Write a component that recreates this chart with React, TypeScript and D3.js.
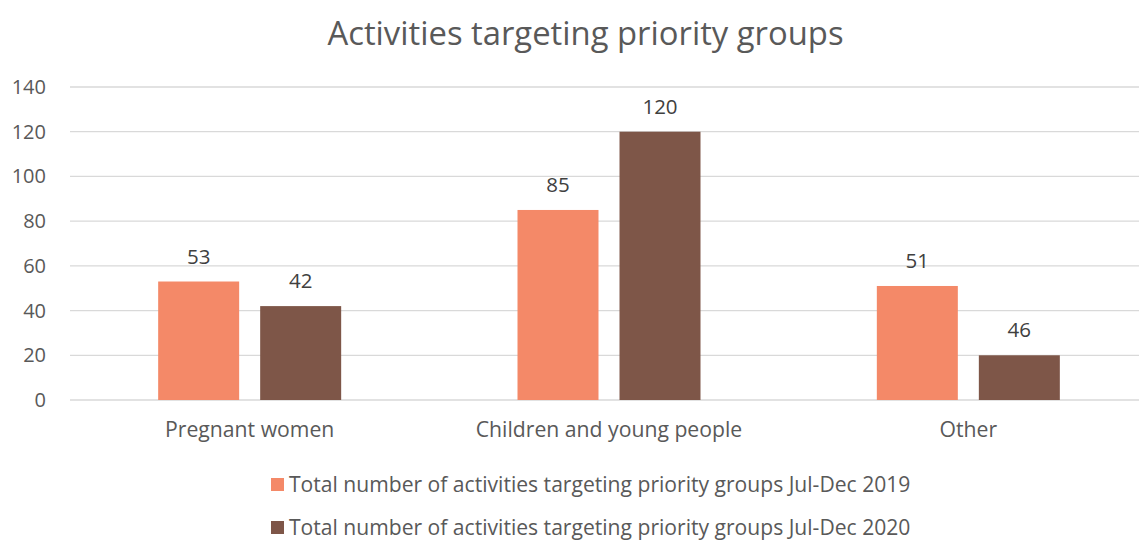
import React from "react";
import * as d3 from "d3";

const categories = ["Pregnant women", "Children and young people", "Other"];
const seriesNames = [
  "Total number of activities targeting priority groups Jul-Dec 2019",
  "Total number of activities targeting priority groups Jul-Dec 2020",
];
const values2019 = [53, 85, 51];
const values2020 = [42, 120, 20];
const labels2019 = ["53", "85", "51"];
const labels2020 = ["42", "120", "46"];
const colors = ["#F48968", "#7E5648"];
const yTicks = [0, 20, 40, 60, 80, 100, 120, 140];
const title = "Activities targeting priority groups";

const W = 1139;
const H = 540;
const FONT = "'Open Sans', sans-serif";

export default function App() {
  const left = 70;
  const right = 1148;
  const top = 87;
  const bottom = 400;
  const y = d3.scaleLinear().domain([0, 140]).range([bottom, top]);
  const x0 = d3.scaleBand<string>().domain(categories).range([left, right]).padding(0);
  const bw = x0.bandwidth();
  const gw = 183;
  const x1 = d3
    .scaleBand<number>()
    .domain([0, 1])
    .range([(bw - gw) / 2, (bw + gw) / 2])
    .paddingInner(0.206)
    .paddingOuter(0);
  const series = [
    { vals: values2019, labels: labels2019 },
    { vals: values2020, labels: labels2020 },
  ];
  return (
    <svg width={W} height={H} style={{ display: "block", position: "absolute", left: 0, top: 0 }} fontFamily={FONT}>
      <rect width={W} height={H} fill="#fff" />
      <text x={585.5} y={45} textAnchor="middle" fontSize={32.8} fill="#595959">
        {title}
      </text>
      {yTicks.map((t) => (
        <g key={t}>
          <line x1={left} x2={right} y1={y(t)} y2={y(t)} stroke="#d9d9d9" strokeWidth={1.3} />
          <text x={46} y={y(t) + 7} textAnchor="end" fontSize={20} fill="#595959">
            {t}
          </text>
        </g>
      ))}
      {categories.map((c, i) => (
        <g key={c} transform={`translate(${x0(c)},0)`}>
          {series.map((s, j) => (
            <g key={j}>
              <rect
                x={x1(j)}
                y={y(s.vals[i])}
                width={x1.bandwidth()}
                height={bottom - y(s.vals[i])}
                fill={colors[j]}
              />
              <text
                x={(x1(j) as number) + x1.bandwidth() / 2}
                y={y(s.vals[i]) - 18}
                textAnchor="middle"
                fontSize={20.5}
                fill="#404040"
              >
                {s.labels[i]}
              </text>
            </g>
          ))}
          <text x={bw / 2} y={437} textAnchor="middle" fontSize={21.2} fill="#595959">
            {c}
          </text>
        </g>
      ))}
      {seriesNames.map((n, j) => (
        <g key={n}>
          <rect x={271} y={478 + j * 43} width={13} height={13} fill={colors[j]} />
          <text x={289} y={492 + j * 43} fontSize={21.1} fill="#595959">
            {n}
          </text>
        </g>
      ))}
    </svg>
  );
}
